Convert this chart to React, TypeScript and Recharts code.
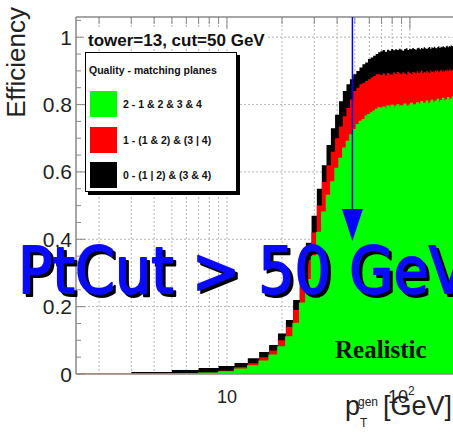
import React from "react";
import {
  Area,
  CartesianGrid,
  ComposedChart,
  Legend,
  ReferenceLine,
  XAxis,
  YAxis,
} from "recharts";

const FONT = "'Liberation Sans', Arial, Helvetica, sans-serif";
const W = 453;
const H = 433;
const PLOT_LEFT = 76;
const PLOT_TOP = 17;
const PLOT_BOTTOM = 374;

const X_MIN = 1.496;
const X_MAX = 172;
const Y_MAX = 1.06;

// histogram bins: 2 GeV wide, low edges 3, 5, 7, ...
const FIRST_EDGE = 3;
const BIN_WIDTH = 2;

// top of the black band (all qualities together)
const TOTAL_TOP = [
  0.006, 0.012, 0.018, 0.024, 0.033, 0.047, 0.065, 0.086, 0.12, 0.16,
  0.22, 0.3, 0.39, 0.47, 0.55, 0.62, 0.68, 0.73, 0.77, 0.81,
  0.84, 0.86, 0.875, 0.89, 0.9, 0.91, 0.92, 0.925, 0.935, 0.94,
  0.945, 0.95, 0.955,
  0.958, 0.962, 0.957, 0.963, 0.96, 0.965, 0.961, 0.964, 0.962, 0.966,
  0.963, 0.96, 0.965, 0.967, 0.962, 0.966, 0.964, 0.968, 0.965, 0.963,
  0.967, 0.969, 0.964, 0.968, 0.966, 0.97, 0.967, 0.965, 0.969, 0.971,
  0.966, 0.97, 0.968, 0.972, 0.969, 0.967, 0.971, 0.973, 0.968, 0.972,
  0.97, 0.974, 0.971, 0.969, 0.973, 0.975, 0.97, 0.974, 0.972, 0.976,
  0.973, 0.975,
];

// top of the red band (quality 1 + quality 2)
const RED_TOP = [
  0, 0.001, 0.004, 0.01, 0.02, 0.032, 0.05, 0.07, 0.1, 0.14,
  0.19, 0.26, 0.34, 0.42, 0.5, 0.57, 0.62, 0.66, 0.7, 0.735,
  0.765, 0.79, 0.815, 0.84, 0.85, 0.86, 0.865, 0.87, 0.875, 0.88,
  0.885, 0.89, 0.89,
  0.888, 0.892, 0.886, 0.894, 0.89, 0.889, 0.895, 0.891, 0.897, 0.893,
  0.89, 0.896, 0.892, 0.889, 0.898, 0.894, 0.891, 0.897, 0.895, 0.892,
  0.899, 0.894, 0.896, 0.901, 0.893, 0.897, 0.895, 0.9, 0.896, 0.893,
  0.902, 0.897, 0.899, 0.895, 0.901, 0.898, 0.903, 0.896, 0.9, 0.904,
  0.898, 0.901, 0.897, 0.903, 0.9, 0.905, 0.899, 0.902, 0.906, 0.9,
  0.903, 0.905,
];

// top of the green band (quality 2 only)
const GREEN_TOP = [
  0, 0, 0.002, 0.006, 0.014, 0.024, 0.038, 0.056, 0.08, 0.11,
  0.15, 0.21, 0.28, 0.35, 0.42, 0.48, 0.53, 0.57, 0.61, 0.64,
  0.67, 0.69, 0.71, 0.725, 0.74, 0.75, 0.755, 0.765, 0.77, 0.775,
  0.78, 0.785, 0.79,
  0.788, 0.792, 0.786, 0.795, 0.79, 0.797, 0.789, 0.794, 0.799, 0.791,
  0.796, 0.793, 0.801, 0.795, 0.79, 0.798, 0.803, 0.794, 0.799, 0.796,
  0.805, 0.797, 0.801, 0.808, 0.798, 0.803, 0.8, 0.81, 0.802, 0.797,
  0.806, 0.812, 0.801, 0.805, 0.809, 0.803, 0.815, 0.806, 0.802, 0.811,
  0.807, 0.818, 0.804, 0.809, 0.813, 0.806, 0.82, 0.81, 0.808, 0.816,
  0.812, 0.822,
];

const SERIES = [
  { key: "total", name: "0 - (1 | 2) & (3 & 4)", color: "#000000", line: "none" },
  { key: "red", name: "1 - (1 & 2) & (3 | 4)", color: "#ff0000", line: "none" },
  { key: "green", name: "2 - 1 & 2 & 3 & 4", color: "#00ff00", line: "#00ff00" },
];

const X_TICKS = [2, 3, 4, 5, 6, 7, 8, 9, 10, 20, 30, 40, 50, 60, 70, 80, 90, 100];
const Y_TICKS = [
  0, 0.05, 0.1, 0.15, 0.2, 0.25, 0.3, 0.35, 0.4, 0.45, 0.5, 0.55,
  0.6, 0.65, 0.7, 0.75, 0.8, 0.85, 0.9, 0.95, 1, 1.05,
];
const Y_MAJOR = [0, 0.2, 0.4, 0.6, 0.8, 1];
const Y_LABELS = ["0", "0.2", "0.4", "0.6", "0.8", "1"];
const Y_GRID = [0.2, 0.4, 0.6, 0.8, 1];

const ARROW_PT = 48.5;
const ARROW_TIP = 0.395;

const data = [
  { pt: X_MIN, total: 0, red: 0, green: 0 },
  ...TOTAL_TOP.map((t, i) => ({
    pt: FIRST_EDGE + i * BIN_WIDTH,
    total: t,
    red: RED_TOP[i],
    green: GREEN_TOP[i],
  })),
];
// closing edge of the last bin
const last = data[data.length - 1];
data.push({ ...last, pt: last.pt + BIN_WIDTH });

function XTick({ x, payload }: any) {
  const v = payload.value;
  const major = v === 10 || v === 100;
  const len = major ? 12 : 7;
  return (
    <g>
      <line x1={x} x2={x} y1={PLOT_TOP} y2={PLOT_TOP + len} stroke="#888" />
      {v === 10 && (
        <text x={x} y={403} textAnchor="middle" fontSize={18} fontFamily={FONT} fill="#222">
          10
        </text>
      )}
      {v === 100 && (
        <text x={x - 22} y={403} fontSize={18} fontFamily={FONT} fill="#222">
          10
          <tspan dy={-8} fontSize={12}>
            2
          </tspan>
        </text>
      )}
    </g>
  );
}

function YTick({ y, payload }: any) {
  const v = payload.value;
  const idx = Y_MAJOR.findIndex((m) => Math.abs(m - v) < 1e-6);
  const major = idx >= 0;
  return (
    <g>
      <line x1={PLOT_LEFT} x2={PLOT_LEFT + (major ? 9 : 5)} y1={y} y2={y} stroke="#888" />
      {major && (
        <text
          x={72}
          y={y}
          dy="0.36em"
          textAnchor="end"
          fontSize={21}
          fontFamily={FONT}
          fill="#222"
        >
          {Y_LABELS[idx]}
        </text>
      )}
    </g>
  );
}

function ArrowShape(props: any) {
  const { x1, y1, x2, y2 } = props;
  const head = 32;
  const half = 10.5;
  return (
    <g>
      <line x1={x1} y1={y1} x2={x2} y2={y2 - head + 2} stroke="#0000ff" strokeWidth={1.5} />
      <polygon
        points={`${x2 - half},${y2 - head} ${x2 + half},${y2 - head} ${x2},${y2}`}
        fill="#0000ff"
      />
    </g>
  );
}

function QualityLegend({ payload }: any) {
  const items = [...(payload ?? [])].reverse();
  return (
    <div
      style={{
        boxSizing: "border-box",
        position: "relative",
        width: 152,
        height: 140,
        background: "#fff",
        border: "1px solid #000",
        boxShadow: "3px 3px 0 #000",
        fontFamily: FONT,
        fontWeight: 700,
        fontSize: 10.5,
        color: "#111",
      }}
    >
      <div style={{ position: "absolute", left: 3, top: 11, whiteSpace: "nowrap" }}>
        Quality - matching planes
      </div>
      {items.map((it: any, i: number) => (
        <div
          key={it.value}
          style={{
            position: "absolute",
            left: 4,
            top: 38 + i * 35.5,
            display: "flex",
            alignItems: "center",
            whiteSpace: "nowrap",
          }}
        >
          <span style={{ display: "inline-block", width: 27, height: 26, background: it.color }} />
          <span style={{ marginLeft: 6 }}>{it.value}</span>
        </div>
      ))}
    </div>
  );
}

const BIG_TEXT = "PtCut > 50 GeV";

export default function App() {
  return (
    <div
      style={{
        position: "fixed",
        left: 0,
        top: 0,
        width: W,
        height: H,
        overflow: "hidden",
        background: "#fff",
      }}
    >
      <ComposedChart
        width={W}
        height={H}
        data={data}
        margin={{ top: PLOT_TOP, right: 0, bottom: 0, left: 0 }}
      >
        <CartesianGrid
          stroke="#b4b4b4"
          strokeDasharray="2 2"
          horizontalValues={Y_GRID}
          verticalValues={X_TICKS}
        />
        <XAxis
          dataKey="pt"
          type="number"
          scale="log"
          domain={[X_MIN, X_MAX]}
          allowDataOverflow
          ticks={X_TICKS}
          tick={<XTick />}
          tickLine={false}
          axisLine={{ stroke: "#888", strokeWidth: 1.5 }}
          height={H - PLOT_BOTTOM}
          interval={0}
          label={() => (
            <text x={345} y={415} fontSize={27} fontFamily={FONT} fill="#222">
              p
              <tspan x={360} y={427} fontSize={12}>
                T
              </tspan>
              <tspan x={358} y={406} fontSize={12}>
                gen
              </tspan>
              <tspan x={383} y={415} fontSize={27}>
                [GeV]
              </tspan>
            </text>
          )}
        />
        <YAxis
          type="number"
          domain={[0, Y_MAX]}
          allowDataOverflow
          ticks={Y_TICKS}
          tick={<YTick />}
          tickLine={false}
          interval={0}
          axisLine={{ stroke: "#888", strokeWidth: 1.5 }}
          width={PLOT_LEFT}
          label={() => (
            <text
              x={25}
              y={7}
              textAnchor="end"
              transform="rotate(-90 25 7)"
              fontSize={26}
              fontFamily={FONT}
              fill="#222"
            >
              Efficiency
            </text>
          )}
        />
        <Legend
          layout="vertical"
          align="center"
          verticalAlign="middle"
          content={<QualityLegend />}
          wrapperStyle={{ left: 85, top: 52, width: 152, height: 140 }}
        />
        {SERIES.map((s) => (
          <Area
            key={s.key}
            dataKey={s.key}
            name={s.name}
            type="stepAfter"
            stroke={s.line}
            strokeWidth={1.5}
            fill={s.color}
            fillOpacity={1}
            dot={false}
            activeDot={false}
            isAnimationActive={false}
          />
        ))}
        <ReferenceLine y={Y_MAX} stroke="#888" strokeWidth={1.5} />
        <ReferenceLine
          segment={[
            { x: ARROW_PT, y: Y_MAX },
            { x: ARROW_PT, y: ARROW_TIP },
          ]}
          shape={ArrowShape}
        />
      </ComposedChart>
      <svg
        width={W}
        height={H}
        style={{ position: "absolute", left: 0, top: 0, pointerEvents: "none" }}
      >
        <rect x={84} y={29} width={182} height={18} fill="#fff" />
        <text x={88} y={46} fontSize={17} fontWeight={700} fontFamily={FONT} fill="#111">
          tower=13, cut=50 GeV
        </text>
        <text
          x={335}
          y={358}
          fontSize={25}
          fontWeight={700}
          fontFamily="'Liberation Serif', 'Times New Roman', serif"
          fill="#111"
        >
          Realistic
        </text>
        <text
          x={21}
          y={296}
          fontSize={64}
          fontFamily="'DejaVu Sans', sans-serif"
          textLength={450}
          lengthAdjust="spacingAndGlyphs"
          fill="#000"
          stroke="#000"
          strokeWidth={2}
          strokeLinejoin="round"
        >
          {BIG_TEXT}
        </text>
        <text
          x={18}
          y={293}
          fontSize={64}
          fontFamily="'DejaVu Sans', sans-serif"
          textLength={450}
          lengthAdjust="spacingAndGlyphs"
          fill="#0a0aff"
          stroke="#0a0aff"
          strokeWidth={2}
          strokeLinejoin="round"
        >
          {BIG_TEXT}
        </text>
      </svg>
    </div>
  );
}
